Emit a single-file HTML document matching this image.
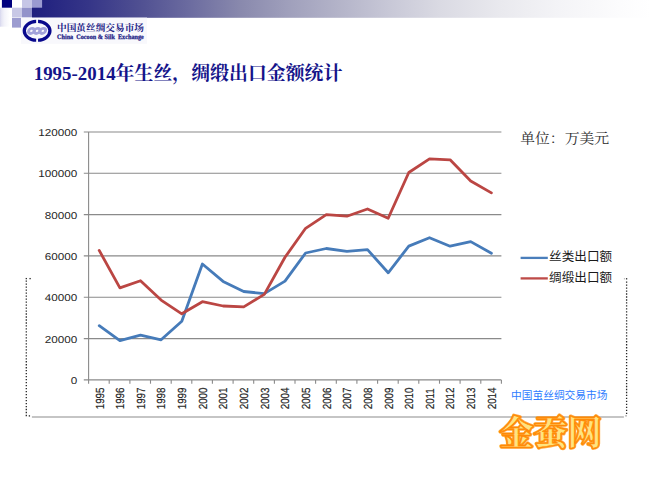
<!DOCTYPE html>
<html lang="zh-CN">
<head>
<meta charset="utf-8">
<title>1995-2014年生丝，绸缎出口金额统计</title>
<style>
html,body{margin:0;padding:0;background:#fff;}
body{width:650px;height:483px;overflow:hidden;position:relative;font-family:"Liberation Sans",sans-serif;}
svg{display:block;position:absolute;left:0;top:0;}
.t{position:absolute;white-space:nowrap;line-height:1;color:transparent;font-family:"Liberation Serif",serif;overflow:hidden;height:1em;max-width:320px;}
</style>
</head>
<body>
<svg width="650" height="483" viewBox="0 0 650 483">
<defs>
<linearGradient id="bar" x1="0" y1="0" x2="1" y2="0">
<stop offset="0" stop-color="#1e1e7e"/>
<stop offset="0.094" stop-color="#363688"/>
<stop offset="0.175" stop-color="#505092"/>
<stop offset="0.256" stop-color="#6c6ca0"/>
<stop offset="0.337" stop-color="#8989ad"/>
<stop offset="0.417" stop-color="#a0a0bc"/>
<stop offset="0.498" stop-color="#b4b4c9"/>
<stop offset="0.579" stop-color="#c8c8d7"/>
<stop offset="0.66" stop-color="#dadae3"/>
<stop offset="0.757" stop-color="#e9e9ee"/>
<stop offset="0.854" stop-color="#f4f4f7"/>
<stop offset="0.951" stop-color="#fcfcfd"/>
<stop offset="1" stop-color="#ffffff"/>
</linearGradient>
<linearGradient id="strip" x1="0" y1="0" x2="1" y2="0">
<stop offset="0" stop-color="#d6d6ee"/>
<stop offset="0.15" stop-color="#e6e6f4"/>
<stop offset="0.4" stop-color="#f3f3fa"/>
<stop offset="0.9" stop-color="#ffffff"/>
</linearGradient>
<filter id="glow" x="-10%" y="-20%" width="120%" height="140%">
<feGaussianBlur stdDeviation="0.7"/>
</filter>
<filter id="soft" x="-5%" y="-5%" width="110%" height="110%">
<feGaussianBlur stdDeviation="0.35"/>
</filter>
</defs>
<rect width="650" height="483" fill="#ffffff"/>
<g id="header">
<rect x="32" y="0" width="618" height="17.8" fill="url(#bar)"/>
<rect x="0" y="7.7" width="11" height="19" fill="url(#strip)"/>
<rect x="1.9" y="0" width="10.1" height="7.7" fill="#00007e"/>
<rect x="12" y="0" width="10" height="7.7" fill="#ffffff"/>
<rect x="22" y="0" width="10" height="7.7" fill="#c6c6e6"/>
<rect x="32" y="0" width="10.1" height="7.7" fill="#9a9ad0"/>
<rect x="12" y="7.7" width="10" height="9.8" fill="#c8c8e6"/>
<rect x="22" y="7.7" width="10" height="9.8" fill="#9292ca"/>
<rect x="12" y="18" width="9" height="9.6" fill="#9c9cd0"/>
</g>
<g id="logo">
<rect x="21" y="17.6" width="126" height="26.2" fill="#f8f8fc"/>
<path d="M36.15 19.87A14.4 11.0 0 0 0 36.15 41.83L36.15 38.72A11.2 7.9 0 0 1 36.15 22.98ZM38.05 19.87A14.4 11.0 0 0 1 38.05 41.83L38.05 38.72A11.2 7.9 0 0 0 38.05 22.98Z" fill="#08088c"/>
<ellipse cx="31.40" cy="30.95" rx="2.75" ry="2.55" fill="none" stroke="#a2a2da" stroke-width="2.9" transform="translate(0 30.85) skewX(-14) translate(0 -30.85)"/>
<ellipse cx="37.10" cy="30.95" rx="2.75" ry="2.55" fill="none" stroke="#a2a2da" stroke-width="2.9" transform="translate(0 30.85) skewX(-14) translate(0 -30.85)"/>
<ellipse cx="42.80" cy="30.95" rx="2.75" ry="2.55" fill="none" stroke="#a2a2da" stroke-width="2.9" transform="translate(0 30.85) skewX(-14) translate(0 -30.85)"/>
<text x="57" y="31.4" font-family="'Liberation Serif','Noto Serif CJK SC',serif" font-weight="bold" font-size="9.6" fill="#1c1c86" textLength="87" lengthAdjust="spacingAndGlyphs">中国茧丝绸交易市场</text>
<text x="57" y="38.8" font-family="Liberation Serif, serif" font-weight="bold" font-size="6.8" text-rendering="geometricPrecision" fill="#1c1c86" stroke="#1c1c86" stroke-width="0.25" textLength="86.8" lengthAdjust="spacingAndGlyphs" xml:space="preserve">China  Cocoon &amp; Silk  Exchange</text>
</g>
<text id="title" x="33.7" y="79.5" font-family="'Liberation Serif','Noto Serif CJK SC',serif" font-weight="bold" font-size="18.8" fill="#14148a" textLength="308.7" lengthAdjust="spacingAndGlyphs">1995-2014年生丝，绸缎出口金额统计</text>
<g id="chart">
<line x1="83.8" y1="132.0" x2="501.4" y2="132.0" stroke="#8a8a8a" stroke-width="1.1"/>
<line x1="83.8" y1="173.3" x2="501.4" y2="173.3" stroke="#8a8a8a" stroke-width="1.1"/>
<line x1="83.8" y1="214.6" x2="501.4" y2="214.6" stroke="#8a8a8a" stroke-width="1.1"/>
<line x1="83.8" y1="255.9" x2="501.4" y2="255.9" stroke="#8a8a8a" stroke-width="1.1"/>
<line x1="83.8" y1="297.3" x2="501.4" y2="297.3" stroke="#8a8a8a" stroke-width="1.1"/>
<line x1="83.8" y1="338.6" x2="501.4" y2="338.6" stroke="#8a8a8a" stroke-width="1.1"/>
<line x1="83.8" y1="379.9" x2="501.4" y2="379.9" stroke="#8a8a8a" stroke-width="1.1"/>
<line x1="88.6" y1="132.0" x2="88.6" y2="379.9" stroke="#8a8a8a" stroke-width="1.1"/>
<line x1="88.6" y1="379.9" x2="88.6" y2="383.7" stroke="#8a8a8a" stroke-width="1.1"/>
<line x1="109.2" y1="379.9" x2="109.2" y2="383.7" stroke="#8a8a8a" stroke-width="1.1"/>
<line x1="129.9" y1="379.9" x2="129.9" y2="383.7" stroke="#8a8a8a" stroke-width="1.1"/>
<line x1="150.5" y1="379.9" x2="150.5" y2="383.7" stroke="#8a8a8a" stroke-width="1.1"/>
<line x1="171.2" y1="379.9" x2="171.2" y2="383.7" stroke="#8a8a8a" stroke-width="1.1"/>
<line x1="191.8" y1="379.9" x2="191.8" y2="383.7" stroke="#8a8a8a" stroke-width="1.1"/>
<line x1="212.4" y1="379.9" x2="212.4" y2="383.7" stroke="#8a8a8a" stroke-width="1.1"/>
<line x1="233.1" y1="379.9" x2="233.1" y2="383.7" stroke="#8a8a8a" stroke-width="1.1"/>
<line x1="253.7" y1="379.9" x2="253.7" y2="383.7" stroke="#8a8a8a" stroke-width="1.1"/>
<line x1="274.4" y1="379.9" x2="274.4" y2="383.7" stroke="#8a8a8a" stroke-width="1.1"/>
<line x1="295.0" y1="379.9" x2="295.0" y2="383.7" stroke="#8a8a8a" stroke-width="1.1"/>
<line x1="315.6" y1="379.9" x2="315.6" y2="383.7" stroke="#8a8a8a" stroke-width="1.1"/>
<line x1="336.3" y1="379.9" x2="336.3" y2="383.7" stroke="#8a8a8a" stroke-width="1.1"/>
<line x1="356.9" y1="379.9" x2="356.9" y2="383.7" stroke="#8a8a8a" stroke-width="1.1"/>
<line x1="377.6" y1="379.9" x2="377.6" y2="383.7" stroke="#8a8a8a" stroke-width="1.1"/>
<line x1="398.2" y1="379.9" x2="398.2" y2="383.7" stroke="#8a8a8a" stroke-width="1.1"/>
<line x1="418.8" y1="379.9" x2="418.8" y2="383.7" stroke="#8a8a8a" stroke-width="1.1"/>
<line x1="439.5" y1="379.9" x2="439.5" y2="383.7" stroke="#8a8a8a" stroke-width="1.1"/>
<line x1="460.1" y1="379.9" x2="460.1" y2="383.7" stroke="#8a8a8a" stroke-width="1.1"/>
<line x1="480.8" y1="379.9" x2="480.8" y2="383.7" stroke="#8a8a8a" stroke-width="1.1"/>
<line x1="501.4" y1="379.9" x2="501.4" y2="383.7" stroke="#8a8a8a" stroke-width="1.1"/>
<text transform="translate(77.3 136.10) scale(1.169 1)" text-anchor="end" font-family="Liberation Sans, sans-serif" font-size="10.0" fill="#262626" text-rendering="geometricPrecision">120000</text>
<text transform="translate(77.3 177.42) scale(1.169 1)" text-anchor="end" font-family="Liberation Sans, sans-serif" font-size="10.0" fill="#262626" text-rendering="geometricPrecision">100000</text>
<text transform="translate(77.3 218.73) scale(1.169 1)" text-anchor="end" font-family="Liberation Sans, sans-serif" font-size="10.0" fill="#262626" text-rendering="geometricPrecision">80000</text>
<text transform="translate(77.3 260.05) scale(1.169 1)" text-anchor="end" font-family="Liberation Sans, sans-serif" font-size="10.0" fill="#262626" text-rendering="geometricPrecision">60000</text>
<text transform="translate(77.3 301.37) scale(1.169 1)" text-anchor="end" font-family="Liberation Sans, sans-serif" font-size="10.0" fill="#262626" text-rendering="geometricPrecision">40000</text>
<text transform="translate(77.3 342.68) scale(1.169 1)" text-anchor="end" font-family="Liberation Sans, sans-serif" font-size="10.0" fill="#262626" text-rendering="geometricPrecision">20000</text>
<text transform="translate(77.3 384.00) scale(1.169 1)" text-anchor="end" font-family="Liberation Sans, sans-serif" font-size="10.0" fill="#262626" text-rendering="geometricPrecision">0</text>
<text transform="translate(103.5 409.3) rotate(-90) scale(1 1.2)" font-family="Liberation Sans, sans-serif" font-size="9.8" fill="#1e1e1e" stroke="#1e1e1e" stroke-width="0.15" text-rendering="geometricPrecision">1995</text>
<text transform="translate(124.2 409.3) rotate(-90) scale(1 1.2)" font-family="Liberation Sans, sans-serif" font-size="9.8" fill="#1e1e1e" stroke="#1e1e1e" stroke-width="0.15" text-rendering="geometricPrecision">1996</text>
<text transform="translate(144.8 409.3) rotate(-90) scale(1 1.2)" font-family="Liberation Sans, sans-serif" font-size="9.8" fill="#1e1e1e" stroke="#1e1e1e" stroke-width="0.15" text-rendering="geometricPrecision">1997</text>
<text transform="translate(165.4 409.3) rotate(-90) scale(1 1.2)" font-family="Liberation Sans, sans-serif" font-size="9.8" fill="#1e1e1e" stroke="#1e1e1e" stroke-width="0.15" text-rendering="geometricPrecision">1998</text>
<text transform="translate(186.1 409.3) rotate(-90) scale(1 1.2)" font-family="Liberation Sans, sans-serif" font-size="9.8" fill="#1e1e1e" stroke="#1e1e1e" stroke-width="0.15" text-rendering="geometricPrecision">1999</text>
<text transform="translate(206.7 409.3) rotate(-90) scale(1 1.2)" font-family="Liberation Sans, sans-serif" font-size="9.8" fill="#1e1e1e" stroke="#1e1e1e" stroke-width="0.15" text-rendering="geometricPrecision">2000</text>
<text transform="translate(227.4 409.3) rotate(-90) scale(1 1.2)" font-family="Liberation Sans, sans-serif" font-size="9.8" fill="#1e1e1e" stroke="#1e1e1e" stroke-width="0.15" text-rendering="geometricPrecision">2001</text>
<text transform="translate(248.0 409.3) rotate(-90) scale(1 1.2)" font-family="Liberation Sans, sans-serif" font-size="9.8" fill="#1e1e1e" stroke="#1e1e1e" stroke-width="0.15" text-rendering="geometricPrecision">2002</text>
<text transform="translate(268.6 409.3) rotate(-90) scale(1 1.2)" font-family="Liberation Sans, sans-serif" font-size="9.8" fill="#1e1e1e" stroke="#1e1e1e" stroke-width="0.15" text-rendering="geometricPrecision">2003</text>
<text transform="translate(289.3 409.3) rotate(-90) scale(1 1.2)" font-family="Liberation Sans, sans-serif" font-size="9.8" fill="#1e1e1e" stroke="#1e1e1e" stroke-width="0.15" text-rendering="geometricPrecision">2004</text>
<text transform="translate(309.9 409.3) rotate(-90) scale(1 1.2)" font-family="Liberation Sans, sans-serif" font-size="9.8" fill="#1e1e1e" stroke="#1e1e1e" stroke-width="0.15" text-rendering="geometricPrecision">2005</text>
<text transform="translate(330.6 409.3) rotate(-90) scale(1 1.2)" font-family="Liberation Sans, sans-serif" font-size="9.8" fill="#1e1e1e" stroke="#1e1e1e" stroke-width="0.15" text-rendering="geometricPrecision">2006</text>
<text transform="translate(351.2 409.3) rotate(-90) scale(1 1.2)" font-family="Liberation Sans, sans-serif" font-size="9.8" fill="#1e1e1e" stroke="#1e1e1e" stroke-width="0.15" text-rendering="geometricPrecision">2007</text>
<text transform="translate(371.8 409.3) rotate(-90) scale(1 1.2)" font-family="Liberation Sans, sans-serif" font-size="9.8" fill="#1e1e1e" stroke="#1e1e1e" stroke-width="0.15" text-rendering="geometricPrecision">2008</text>
<text transform="translate(392.5 409.3) rotate(-90) scale(1 1.2)" font-family="Liberation Sans, sans-serif" font-size="9.8" fill="#1e1e1e" stroke="#1e1e1e" stroke-width="0.15" text-rendering="geometricPrecision">2009</text>
<text transform="translate(413.1 409.3) rotate(-90) scale(1 1.2)" font-family="Liberation Sans, sans-serif" font-size="9.8" fill="#1e1e1e" stroke="#1e1e1e" stroke-width="0.15" text-rendering="geometricPrecision">2010</text>
<text transform="translate(433.8 409.3) rotate(-90) scale(1 1.2)" font-family="Liberation Sans, sans-serif" font-size="9.8" fill="#1e1e1e" stroke="#1e1e1e" stroke-width="0.15" text-rendering="geometricPrecision">2011</text>
<text transform="translate(454.4 409.3) rotate(-90) scale(1 1.2)" font-family="Liberation Sans, sans-serif" font-size="9.8" fill="#1e1e1e" stroke="#1e1e1e" stroke-width="0.15" text-rendering="geometricPrecision">2012</text>
<text transform="translate(475.0 409.3) rotate(-90) scale(1 1.2)" font-family="Liberation Sans, sans-serif" font-size="9.8" fill="#1e1e1e" stroke="#1e1e1e" stroke-width="0.15" text-rendering="geometricPrecision">2013</text>
<text transform="translate(495.7 409.3) rotate(-90) scale(1 1.2)" font-family="Liberation Sans, sans-serif" font-size="9.8" fill="#1e1e1e" stroke="#1e1e1e" stroke-width="0.15" text-rendering="geometricPrecision">2014</text>
<polyline points="99.2,325.7 119.9,340.6 140.5,335.1 161.1,339.8 181.8,321.2 202.4,264.0 223.1,281.4 243.7,291.5 264.3,293.6 285.0,281.1 305.6,253.0 326.3,248.5 346.9,251.3 367.5,249.6 388.2,272.8 408.8,246.1 429.5,237.7 450.1,246.2 470.7,241.6 491.4,253.2" fill="none" stroke="#467bb9" stroke-width="2.8" stroke-linejoin="round" stroke-linecap="round"/>
<polyline points="99.2,250.4 119.9,287.9 140.5,280.7 161.1,300.1 181.8,313.8 202.4,301.7 223.1,306.0 243.7,306.9 264.3,294.4 285.0,257.3 305.6,228.3 326.3,214.7 346.9,216.2 367.5,209.0 388.2,218.3 408.8,172.5 429.5,158.9 450.1,159.8 470.7,181.0 491.4,192.9" fill="none" stroke="#bb4643" stroke-width="2.8" stroke-linejoin="round" stroke-linecap="round"/>
<text x="520.2" y="142.8" font-family="'Liberation Serif','Noto Serif CJK SC',serif" font-size="13.5" fill="#303030" textLength="89" lengthAdjust="spacingAndGlyphs">单位：万美元</text>
<line x1="520.6" y1="257.9" x2="547.8" y2="257.9" stroke="#4a7ebb" stroke-width="2.3"/>
<line x1="520.6" y1="278.4" x2="547.8" y2="278.4" stroke="#be4b48" stroke-width="2.3"/>
<text x="549.1" y="261.4" font-family="'Liberation Sans','Noto Sans CJK SC',sans-serif" font-size="12" fill="#1a1a1a" textLength="63" lengthAdjust="spacingAndGlyphs">丝类出口额</text>
<text x="549.1" y="281.8" font-family="'Liberation Sans','Noto Sans CJK SC',sans-serif" font-size="12" fill="#1a1a1a" textLength="63" lengthAdjust="spacingAndGlyphs">绸缎出口额</text>
</g>
<g id="frame">
<line x1="26.3" y1="280.55" x2="26.3" y2="416.3" stroke="#262626" stroke-width="1.3" stroke-dasharray="1.3 1.684"/>
<line x1="626.6" y1="281.43" x2="626.6" y2="414.3" stroke="#262626" stroke-width="1.3" stroke-dasharray="1.3 1.684"/>
<rect x="625.4" y="415.2" width="1.3" height="1.3" fill="#8c8c8c"/>
<rect x="25.65" y="277.95" width="1.3" height="1.3" fill="#262626"/>
<rect x="29.45" y="277.95" width="1.3" height="1.3" fill="#262626"/>
<rect x="28.75" y="415.25" width="1.3" height="1.3" fill="#262626"/>
<rect x="625.95" y="278.15" width="1.3" height="1.3" fill="#262626"/>
<rect x="623.9" y="278.3" width="1" height="1" fill="#9a9a9a"/>
<line x1="31.9" y1="416.9" x2="623.9" y2="416.9" stroke="#b2b2b2" stroke-width="1.5"/>
</g>
<text x="511" y="398.8" font-family="'Liberation Sans','Noto Sans CJK SC',sans-serif" font-size="10.7" fill="#2b7bff" textLength="96.5" lengthAdjust="spacingAndGlyphs">中国茧丝绸交易市场</text>
<text x="499.5" y="445" font-family="'Liberation Serif','Noto Serif CJK SC',serif" font-weight="bold" font-size="34" fill="#ff9410" stroke="#ff9410" stroke-width="3.6" stroke-linejoin="round" filter="url(#glow)" opacity="0.75" textLength="102" lengthAdjust="spacingAndGlyphs">金蚕网</text>
<text x="499.5" y="445" font-family="'Liberation Serif','Noto Serif CJK SC',serif" font-weight="bold" font-size="34" fill="#ff8a06" stroke="#ff8a06" stroke-width="2.3" stroke-linejoin="round" textLength="102" lengthAdjust="spacingAndGlyphs">金蚕网</text>
<text x="499.5" y="445" font-family="'Liberation Serif','Noto Serif CJK SC',serif" font-weight="bold" font-size="34" fill="#ffe480" stroke="#ff8a06" stroke-width="0.7" stroke-linejoin="round" textLength="102" lengthAdjust="spacingAndGlyphs">金蚕网</text>
</svg>
<div class="t" style="left:57px;top:22px;font-size:9.6px;">中国茧丝绸交易市场</div>
<div class="t" style="left:33px;top:62px;font-size:18.8px;">1995-2014年生丝，绸缎出口金额统计</div>
<div class="t" style="left:520px;top:130px;font-size:12.5px;">单位：万美元</div>
<div class="t" style="left:549px;top:250px;font-size:10.5px;">丝类出口额</div>
<div class="t" style="left:549px;top:271px;font-size:10.5px;">绸缎出口额</div>
<div class="t" style="left:511px;top:388px;font-size:10.7px;">中国茧丝绸交易市场</div>
<div class="t" style="left:499px;top:416px;font-size:34px;">金蚕网</div>
</body>
</html>
